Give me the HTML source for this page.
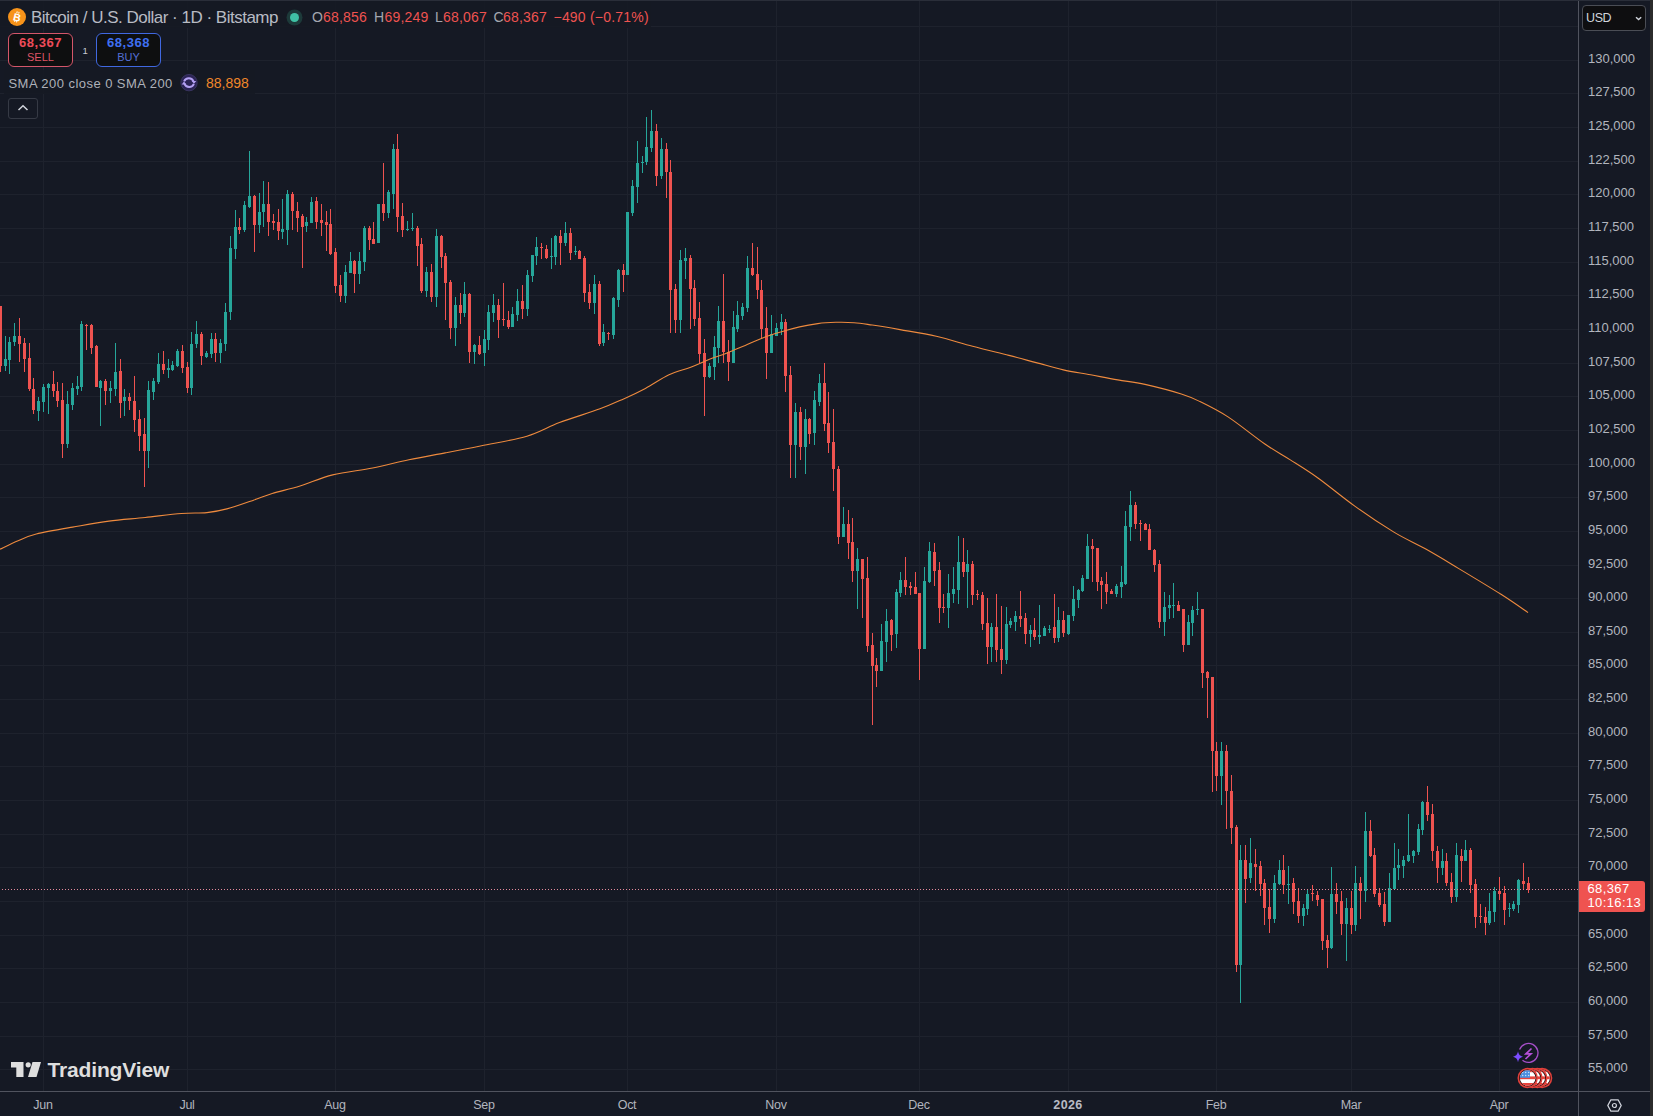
<!DOCTYPE html>
<html><head><meta charset="utf-8">
<style>
html,body{margin:0;padding:0;}
body{width:1653px;height:1116px;background:#151924;position:relative;overflow:hidden;font-family:"Liberation Sans",sans-serif;}
svg{position:absolute;left:0;top:0;}
.pl{position:absolute;left:1588px;color:#b2b5be;font-size:13px;line-height:17px;}
.tl{position:absolute;top:1097px;width:80px;text-align:center;color:#b2b5be;font-size:12.5px;line-height:17px;letter-spacing:-0.3px}
.tl.b{font-weight:700;color:#b8bbc4;letter-spacing:0.4px}
.t{position:absolute;white-space:nowrap;}
.ohlc{top:9px;font-size:14px;line-height:17px;color:#a3a6af;letter-spacing:0.2px}
.ohlc.r{color:#ef5350}
</style></head><body>
<svg width="1653" height="1116" shape-rendering="crispEdges">
<rect x="0" y="26" width="1578" height="1" fill="#1e222d"/>
<rect x="0" y="60" width="1578" height="1" fill="#1e222d"/>
<rect x="0" y="93" width="1578" height="1" fill="#1e222d"/>
<rect x="0" y="127" width="1578" height="1" fill="#1e222d"/>
<rect x="0" y="161" width="1578" height="1" fill="#1e222d"/>
<rect x="0" y="194" width="1578" height="1" fill="#1e222d"/>
<rect x="0" y="228" width="1578" height="1" fill="#1e222d"/>
<rect x="0" y="262" width="1578" height="1" fill="#1e222d"/>
<rect x="0" y="295" width="1578" height="1" fill="#1e222d"/>
<rect x="0" y="329" width="1578" height="1" fill="#1e222d"/>
<rect x="0" y="363" width="1578" height="1" fill="#1e222d"/>
<rect x="0" y="396" width="1578" height="1" fill="#1e222d"/>
<rect x="0" y="430" width="1578" height="1" fill="#1e222d"/>
<rect x="0" y="464" width="1578" height="1" fill="#1e222d"/>
<rect x="0" y="497" width="1578" height="1" fill="#1e222d"/>
<rect x="0" y="531" width="1578" height="1" fill="#1e222d"/>
<rect x="0" y="565" width="1578" height="1" fill="#1e222d"/>
<rect x="0" y="598" width="1578" height="1" fill="#1e222d"/>
<rect x="0" y="632" width="1578" height="1" fill="#1e222d"/>
<rect x="0" y="665" width="1578" height="1" fill="#1e222d"/>
<rect x="0" y="699" width="1578" height="1" fill="#1e222d"/>
<rect x="0" y="733" width="1578" height="1" fill="#1e222d"/>
<rect x="0" y="766" width="1578" height="1" fill="#1e222d"/>
<rect x="0" y="800" width="1578" height="1" fill="#1e222d"/>
<rect x="0" y="834" width="1578" height="1" fill="#1e222d"/>
<rect x="0" y="867" width="1578" height="1" fill="#1e222d"/>
<rect x="0" y="901" width="1578" height="1" fill="#1e222d"/>
<rect x="0" y="935" width="1578" height="1" fill="#1e222d"/>
<rect x="0" y="968" width="1578" height="1" fill="#1e222d"/>
<rect x="0" y="1002" width="1578" height="1" fill="#1e222d"/>
<rect x="0" y="1036" width="1578" height="1" fill="#1e222d"/>
<rect x="0" y="1069" width="1578" height="1" fill="#1e222d"/>
<rect x="43" y="0" width="1" height="1091" fill="#1e222d"/>
<rect x="187" y="0" width="1" height="1091" fill="#1e222d"/>
<rect x="335" y="0" width="1" height="1091" fill="#1e222d"/>
<rect x="484" y="0" width="1" height="1091" fill="#1e222d"/>
<rect x="627" y="0" width="1" height="1091" fill="#1e222d"/>
<rect x="776" y="0" width="1" height="1091" fill="#1e222d"/>
<rect x="919" y="0" width="1" height="1091" fill="#1e222d"/>
<rect x="1068" y="0" width="1" height="1091" fill="#1e222d"/>
<rect x="1216" y="0" width="1" height="1091" fill="#1e222d"/>
<rect x="1351" y="0" width="1" height="1091" fill="#1e222d"/>
<rect x="1499" y="0" width="1" height="1091" fill="#1e222d"/>
<rect x="0" y="306" width="1" height="66" fill="#ef5350"/><rect x="-1" y="306" width="3" height="60" fill="#ef5350"/>
<rect x="5" y="336" width="1" height="35" fill="#26a69a"/><rect x="4" y="359" width="3" height="7" fill="#26a69a"/>
<rect x="9" y="337" width="1" height="37" fill="#26a69a"/><rect x="8" y="342" width="3" height="18" fill="#26a69a"/>
<rect x="14" y="323" width="1" height="23" fill="#26a69a"/><rect x="13" y="336" width="3" height="6" fill="#26a69a"/>
<rect x="19" y="318" width="1" height="44" fill="#ef5350"/><rect x="18" y="336" width="3" height="8" fill="#ef5350"/>
<rect x="24" y="338" width="1" height="34" fill="#ef5350"/><rect x="23" y="343" width="3" height="16" fill="#ef5350"/>
<rect x="29" y="343" width="1" height="48" fill="#ef5350"/><rect x="28" y="358" width="3" height="31" fill="#ef5350"/>
<rect x="33" y="378" width="1" height="36" fill="#ef5350"/><rect x="32" y="389" width="3" height="21" fill="#ef5350"/>
<rect x="38" y="397" width="1" height="24" fill="#26a69a"/><rect x="37" y="401" width="3" height="10" fill="#26a69a"/>
<rect x="43" y="384" width="1" height="28" fill="#26a69a"/><rect x="42" y="387" width="3" height="15" fill="#26a69a"/>
<rect x="48" y="383" width="1" height="31" fill="#26a69a"/><rect x="47" y="384" width="3" height="4" fill="#26a69a"/>
<rect x="53" y="371" width="1" height="26" fill="#ef5350"/><rect x="52" y="384" width="3" height="7" fill="#ef5350"/>
<rect x="57" y="382" width="1" height="25" fill="#ef5350"/><rect x="56" y="391" width="3" height="10" fill="#ef5350"/>
<rect x="62" y="383" width="1" height="75" fill="#ef5350"/><rect x="61" y="400" width="3" height="44" fill="#ef5350"/>
<rect x="67" y="391" width="1" height="57" fill="#26a69a"/><rect x="66" y="404" width="3" height="40" fill="#26a69a"/>
<rect x="72" y="383" width="1" height="27" fill="#26a69a"/><rect x="71" y="388" width="3" height="17" fill="#26a69a"/>
<rect x="77" y="376" width="1" height="19" fill="#26a69a"/><rect x="76" y="386" width="3" height="3" fill="#26a69a"/>
<rect x="81" y="321" width="1" height="70" fill="#26a69a"/><rect x="80" y="324" width="3" height="63" fill="#26a69a"/>
<rect x="86" y="324" width="1" height="26" fill="#ef5350"/><rect x="85" y="325" width="3" height="1" fill="#ef5350"/>
<rect x="91" y="324" width="1" height="30" fill="#ef5350"/><rect x="90" y="325" width="3" height="23" fill="#ef5350"/>
<rect x="96" y="345" width="1" height="42" fill="#ef5350"/><rect x="95" y="346" width="3" height="41" fill="#ef5350"/>
<rect x="100" y="380" width="1" height="46" fill="#26a69a"/><rect x="99" y="381" width="3" height="7" fill="#26a69a"/>
<rect x="105" y="379" width="1" height="26" fill="#ef5350"/><rect x="104" y="381" width="3" height="10" fill="#ef5350"/>
<rect x="110" y="381" width="1" height="22" fill="#26a69a"/><rect x="109" y="388" width="3" height="3" fill="#26a69a"/>
<rect x="115" y="343" width="1" height="53" fill="#26a69a"/><rect x="114" y="372" width="3" height="17" fill="#26a69a"/>
<rect x="120" y="359" width="1" height="59" fill="#ef5350"/><rect x="119" y="371" width="3" height="32" fill="#ef5350"/>
<rect x="124" y="389" width="1" height="27" fill="#26a69a"/><rect x="123" y="397" width="3" height="4" fill="#26a69a"/>
<rect x="129" y="393" width="1" height="17" fill="#ef5350"/><rect x="128" y="397" width="3" height="4" fill="#ef5350"/>
<rect x="134" y="376" width="1" height="56" fill="#ef5350"/><rect x="133" y="401" width="3" height="19" fill="#ef5350"/>
<rect x="139" y="410" width="1" height="41" fill="#ef5350"/><rect x="138" y="419" width="3" height="17" fill="#ef5350"/>
<rect x="144" y="418" width="1" height="69" fill="#ef5350"/><rect x="143" y="434" width="3" height="17" fill="#ef5350"/>
<rect x="148" y="381" width="1" height="87" fill="#26a69a"/><rect x="147" y="390" width="3" height="61" fill="#26a69a"/>
<rect x="153" y="378" width="1" height="22" fill="#26a69a"/><rect x="152" y="381" width="3" height="11" fill="#26a69a"/>
<rect x="158" y="353" width="1" height="31" fill="#26a69a"/><rect x="157" y="364" width="3" height="18" fill="#26a69a"/>
<rect x="163" y="351" width="1" height="23" fill="#ef5350"/><rect x="162" y="364" width="3" height="6" fill="#ef5350"/>
<rect x="168" y="359" width="1" height="19" fill="#26a69a"/><rect x="167" y="368" width="3" height="2" fill="#26a69a"/>
<rect x="172" y="361" width="1" height="10" fill="#26a69a"/><rect x="171" y="365" width="3" height="5" fill="#26a69a"/>
<rect x="177" y="349" width="1" height="18" fill="#26a69a"/><rect x="176" y="351" width="3" height="15" fill="#26a69a"/>
<rect x="182" y="345" width="1" height="28" fill="#ef5350"/><rect x="181" y="351" width="3" height="17" fill="#ef5350"/>
<rect x="187" y="362" width="1" height="31" fill="#ef5350"/><rect x="186" y="367" width="3" height="21" fill="#ef5350"/>
<rect x="191" y="332" width="1" height="63" fill="#26a69a"/><rect x="190" y="344" width="3" height="44" fill="#26a69a"/>
<rect x="196" y="321" width="1" height="27" fill="#26a69a"/><rect x="195" y="334" width="3" height="10" fill="#26a69a"/>
<rect x="201" y="332" width="1" height="33" fill="#ef5350"/><rect x="200" y="334" width="3" height="22" fill="#ef5350"/>
<rect x="206" y="351" width="1" height="7" fill="#26a69a"/><rect x="205" y="353" width="3" height="4" fill="#26a69a"/>
<rect x="211" y="333" width="1" height="25" fill="#26a69a"/><rect x="210" y="339" width="3" height="15" fill="#26a69a"/>
<rect x="215" y="333" width="1" height="29" fill="#ef5350"/><rect x="214" y="339" width="3" height="14" fill="#ef5350"/>
<rect x="220" y="339" width="1" height="24" fill="#26a69a"/><rect x="219" y="343" width="3" height="10" fill="#26a69a"/>
<rect x="225" y="303" width="1" height="48" fill="#26a69a"/><rect x="224" y="312" width="3" height="32" fill="#26a69a"/>
<rect x="230" y="236" width="1" height="84" fill="#26a69a"/><rect x="229" y="248" width="3" height="64" fill="#26a69a"/>
<rect x="235" y="210" width="1" height="49" fill="#26a69a"/><rect x="234" y="227" width="3" height="22" fill="#26a69a"/>
<rect x="239" y="218" width="1" height="16" fill="#ef5350"/><rect x="238" y="227" width="3" height="3" fill="#ef5350"/>
<rect x="244" y="201" width="1" height="31" fill="#26a69a"/><rect x="243" y="205" width="3" height="25" fill="#26a69a"/>
<rect x="249" y="151" width="1" height="57" fill="#26a69a"/><rect x="248" y="196" width="3" height="11" fill="#26a69a"/>
<rect x="254" y="195" width="1" height="57" fill="#ef5350"/><rect x="253" y="196" width="3" height="29" fill="#ef5350"/>
<rect x="259" y="193" width="1" height="40" fill="#26a69a"/><rect x="258" y="212" width="3" height="13" fill="#26a69a"/>
<rect x="263" y="181" width="1" height="46" fill="#26a69a"/><rect x="262" y="204" width="3" height="8" fill="#26a69a"/>
<rect x="268" y="182" width="1" height="54" fill="#ef5350"/><rect x="267" y="204" width="3" height="18" fill="#ef5350"/>
<rect x="273" y="214" width="1" height="16" fill="#ef5350"/><rect x="272" y="221" width="3" height="2" fill="#ef5350"/>
<rect x="278" y="209" width="1" height="31" fill="#ef5350"/><rect x="277" y="222" width="3" height="9" fill="#ef5350"/>
<rect x="282" y="199" width="1" height="40" fill="#26a69a"/><rect x="281" y="229" width="3" height="3" fill="#26a69a"/>
<rect x="287" y="190" width="1" height="55" fill="#26a69a"/><rect x="286" y="194" width="3" height="36" fill="#26a69a"/>
<rect x="292" y="192" width="1" height="38" fill="#ef5350"/><rect x="291" y="194" width="3" height="17" fill="#ef5350"/>
<rect x="297" y="202" width="1" height="30" fill="#ef5350"/><rect x="296" y="211" width="3" height="7" fill="#ef5350"/>
<rect x="302" y="214" width="1" height="54" fill="#ef5350"/><rect x="301" y="216" width="3" height="11" fill="#ef5350"/>
<rect x="306" y="217" width="1" height="15" fill="#26a69a"/><rect x="305" y="222" width="3" height="4" fill="#26a69a"/>
<rect x="311" y="197" width="1" height="26" fill="#26a69a"/><rect x="310" y="202" width="3" height="21" fill="#26a69a"/>
<rect x="316" y="197" width="1" height="32" fill="#ef5350"/><rect x="315" y="201" width="3" height="21" fill="#ef5350"/>
<rect x="321" y="204" width="1" height="32" fill="#ef5350"/><rect x="320" y="220" width="3" height="3" fill="#ef5350"/>
<rect x="326" y="211" width="1" height="40" fill="#ef5350"/><rect x="325" y="222" width="3" height="3" fill="#ef5350"/>
<rect x="330" y="209" width="1" height="46" fill="#ef5350"/><rect x="329" y="224" width="3" height="30" fill="#ef5350"/>
<rect x="335" y="248" width="1" height="45" fill="#ef5350"/><rect x="334" y="252" width="3" height="34" fill="#ef5350"/>
<rect x="340" y="275" width="1" height="27" fill="#ef5350"/><rect x="339" y="285" width="3" height="11" fill="#ef5350"/>
<rect x="345" y="265" width="1" height="38" fill="#26a69a"/><rect x="344" y="272" width="3" height="24" fill="#26a69a"/>
<rect x="350" y="252" width="1" height="21" fill="#26a69a"/><rect x="349" y="261" width="3" height="12" fill="#26a69a"/>
<rect x="354" y="260" width="1" height="33" fill="#ef5350"/><rect x="353" y="261" width="3" height="13" fill="#ef5350"/>
<rect x="359" y="252" width="1" height="32" fill="#26a69a"/><rect x="358" y="261" width="3" height="13" fill="#26a69a"/>
<rect x="364" y="226" width="1" height="45" fill="#26a69a"/><rect x="363" y="228" width="3" height="34" fill="#26a69a"/>
<rect x="369" y="226" width="1" height="24" fill="#ef5350"/><rect x="368" y="228" width="3" height="12" fill="#ef5350"/>
<rect x="373" y="222" width="1" height="22" fill="#ef5350"/><rect x="372" y="239" width="3" height="5" fill="#ef5350"/>
<rect x="378" y="204" width="1" height="39" fill="#26a69a"/><rect x="377" y="204" width="3" height="39" fill="#26a69a"/>
<rect x="383" y="163" width="1" height="58" fill="#ef5350"/><rect x="382" y="204" width="3" height="9" fill="#ef5350"/>
<rect x="388" y="190" width="1" height="28" fill="#26a69a"/><rect x="387" y="192" width="3" height="21" fill="#26a69a"/>
<rect x="393" y="144" width="1" height="65" fill="#26a69a"/><rect x="392" y="149" width="3" height="45" fill="#26a69a"/>
<rect x="397" y="134" width="1" height="98" fill="#ef5350"/><rect x="396" y="149" width="3" height="68" fill="#ef5350"/>
<rect x="402" y="203" width="1" height="34" fill="#ef5350"/><rect x="401" y="216" width="3" height="14" fill="#ef5350"/>
<rect x="407" y="221" width="1" height="10" fill="#26a69a"/><rect x="406" y="229" width="3" height="1" fill="#26a69a"/>
<rect x="412" y="213" width="1" height="18" fill="#26a69a"/><rect x="411" y="228" width="3" height="1" fill="#26a69a"/>
<rect x="417" y="226" width="1" height="40" fill="#ef5350"/><rect x="416" y="228" width="3" height="18" fill="#ef5350"/>
<rect x="421" y="238" width="1" height="55" fill="#ef5350"/><rect x="420" y="244" width="3" height="47" fill="#ef5350"/>
<rect x="426" y="267" width="1" height="30" fill="#26a69a"/><rect x="425" y="272" width="3" height="19" fill="#26a69a"/>
<rect x="431" y="264" width="1" height="38" fill="#ef5350"/><rect x="430" y="272" width="3" height="25" fill="#ef5350"/>
<rect x="436" y="229" width="1" height="78" fill="#26a69a"/><rect x="435" y="236" width="3" height="61" fill="#26a69a"/>
<rect x="441" y="235" width="1" height="33" fill="#ef5350"/><rect x="440" y="236" width="3" height="21" fill="#ef5350"/>
<rect x="445" y="253" width="1" height="67" fill="#ef5350"/><rect x="444" y="256" width="3" height="27" fill="#ef5350"/>
<rect x="450" y="280" width="1" height="59" fill="#ef5350"/><rect x="449" y="282" width="3" height="46" fill="#ef5350"/>
<rect x="455" y="297" width="1" height="49" fill="#26a69a"/><rect x="454" y="305" width="3" height="23" fill="#26a69a"/>
<rect x="460" y="293" width="1" height="31" fill="#ef5350"/><rect x="459" y="305" width="3" height="8" fill="#ef5350"/>
<rect x="464" y="282" width="1" height="35" fill="#26a69a"/><rect x="463" y="294" width="3" height="19" fill="#26a69a"/>
<rect x="469" y="293" width="1" height="70" fill="#ef5350"/><rect x="468" y="294" width="3" height="58" fill="#ef5350"/>
<rect x="474" y="344" width="1" height="20" fill="#26a69a"/><rect x="473" y="345" width="3" height="7" fill="#26a69a"/>
<rect x="479" y="336" width="1" height="19" fill="#ef5350"/><rect x="478" y="345" width="3" height="9" fill="#ef5350"/>
<rect x="484" y="330" width="1" height="36" fill="#26a69a"/><rect x="483" y="339" width="3" height="14" fill="#26a69a"/>
<rect x="488" y="305" width="1" height="45" fill="#26a69a"/><rect x="487" y="312" width="3" height="28" fill="#26a69a"/>
<rect x="493" y="294" width="1" height="28" fill="#26a69a"/><rect x="492" y="305" width="3" height="8" fill="#26a69a"/>
<rect x="498" y="299" width="1" height="39" fill="#ef5350"/><rect x="497" y="305" width="3" height="15" fill="#ef5350"/>
<rect x="503" y="283" width="1" height="43" fill="#ef5350"/><rect x="502" y="319" width="3" height="1" fill="#ef5350"/>
<rect x="508" y="311" width="1" height="18" fill="#ef5350"/><rect x="507" y="320" width="3" height="7" fill="#ef5350"/>
<rect x="512" y="307" width="1" height="20" fill="#26a69a"/><rect x="511" y="314" width="3" height="13" fill="#26a69a"/>
<rect x="517" y="289" width="1" height="32" fill="#26a69a"/><rect x="516" y="301" width="3" height="14" fill="#26a69a"/>
<rect x="522" y="285" width="1" height="34" fill="#ef5350"/><rect x="521" y="301" width="3" height="8" fill="#ef5350"/>
<rect x="527" y="270" width="1" height="46" fill="#26a69a"/><rect x="526" y="275" width="3" height="34" fill="#26a69a"/>
<rect x="532" y="255" width="1" height="27" fill="#26a69a"/><rect x="531" y="255" width="3" height="21" fill="#26a69a"/>
<rect x="536" y="237" width="1" height="28" fill="#26a69a"/><rect x="535" y="247" width="3" height="9" fill="#26a69a"/>
<rect x="541" y="243" width="1" height="16" fill="#ef5350"/><rect x="540" y="247" width="3" height="1" fill="#ef5350"/>
<rect x="546" y="245" width="1" height="14" fill="#ef5350"/><rect x="545" y="249" width="3" height="9" fill="#ef5350"/>
<rect x="551" y="238" width="1" height="31" fill="#26a69a"/><rect x="550" y="256" width="3" height="1" fill="#26a69a"/>
<rect x="555" y="235" width="1" height="30" fill="#26a69a"/><rect x="554" y="236" width="3" height="21" fill="#26a69a"/>
<rect x="560" y="230" width="1" height="35" fill="#ef5350"/><rect x="559" y="236" width="3" height="7" fill="#ef5350"/>
<rect x="565" y="222" width="1" height="24" fill="#26a69a"/><rect x="564" y="233" width="3" height="10" fill="#26a69a"/>
<rect x="570" y="228" width="1" height="32" fill="#ef5350"/><rect x="569" y="233" width="3" height="20" fill="#ef5350"/>
<rect x="575" y="246" width="1" height="9" fill="#26a69a"/><rect x="574" y="251" width="3" height="1" fill="#26a69a"/>
<rect x="579" y="250" width="1" height="9" fill="#ef5350"/><rect x="578" y="251" width="3" height="8" fill="#ef5350"/>
<rect x="584" y="256" width="1" height="46" fill="#ef5350"/><rect x="583" y="258" width="3" height="35" fill="#ef5350"/>
<rect x="589" y="284" width="1" height="25" fill="#ef5350"/><rect x="588" y="292" width="3" height="11" fill="#ef5350"/>
<rect x="594" y="275" width="1" height="39" fill="#26a69a"/><rect x="593" y="284" width="3" height="19" fill="#26a69a"/>
<rect x="599" y="281" width="1" height="65" fill="#ef5350"/><rect x="598" y="284" width="3" height="60" fill="#ef5350"/>
<rect x="603" y="324" width="1" height="22" fill="#26a69a"/><rect x="602" y="332" width="3" height="11" fill="#26a69a"/>
<rect x="608" y="332" width="1" height="8" fill="#ef5350"/><rect x="607" y="333" width="3" height="1" fill="#ef5350"/>
<rect x="613" y="297" width="1" height="42" fill="#26a69a"/><rect x="612" y="298" width="3" height="37" fill="#26a69a"/>
<rect x="618" y="269" width="1" height="38" fill="#26a69a"/><rect x="617" y="270" width="3" height="30" fill="#26a69a"/>
<rect x="623" y="264" width="1" height="28" fill="#ef5350"/><rect x="622" y="270" width="3" height="5" fill="#ef5350"/>
<rect x="627" y="212" width="1" height="63" fill="#26a69a"/><rect x="626" y="212" width="3" height="63" fill="#26a69a"/>
<rect x="632" y="180" width="1" height="36" fill="#26a69a"/><rect x="631" y="186" width="3" height="27" fill="#26a69a"/>
<rect x="637" y="141" width="1" height="62" fill="#26a69a"/><rect x="636" y="163" width="3" height="24" fill="#26a69a"/>
<rect x="642" y="156" width="1" height="17" fill="#26a69a"/><rect x="641" y="162" width="3" height="1" fill="#26a69a"/>
<rect x="646" y="117" width="1" height="48" fill="#26a69a"/><rect x="645" y="147" width="3" height="15" fill="#26a69a"/>
<rect x="651" y="110" width="1" height="42" fill="#26a69a"/><rect x="650" y="131" width="3" height="17" fill="#26a69a"/>
<rect x="656" y="124" width="1" height="62" fill="#ef5350"/><rect x="655" y="131" width="3" height="45" fill="#ef5350"/>
<rect x="661" y="138" width="1" height="41" fill="#26a69a"/><rect x="660" y="149" width="3" height="27" fill="#26a69a"/>
<rect x="666" y="143" width="1" height="55" fill="#ef5350"/><rect x="665" y="149" width="3" height="23" fill="#ef5350"/>
<rect x="670" y="160" width="1" height="173" fill="#ef5350"/><rect x="669" y="172" width="3" height="118" fill="#ef5350"/>
<rect x="675" y="284" width="1" height="49" fill="#ef5350"/><rect x="674" y="289" width="3" height="31" fill="#ef5350"/>
<rect x="680" y="250" width="1" height="83" fill="#26a69a"/><rect x="679" y="260" width="3" height="60" fill="#26a69a"/>
<rect x="685" y="248" width="1" height="31" fill="#26a69a"/><rect x="684" y="258" width="3" height="3" fill="#26a69a"/>
<rect x="690" y="255" width="1" height="74" fill="#ef5350"/><rect x="689" y="258" width="3" height="31" fill="#ef5350"/>
<rect x="694" y="280" width="1" height="46" fill="#ef5350"/><rect x="693" y="288" width="3" height="31" fill="#ef5350"/>
<rect x="699" y="302" width="1" height="61" fill="#ef5350"/><rect x="698" y="318" width="3" height="36" fill="#ef5350"/>
<rect x="704" y="339" width="1" height="77" fill="#ef5350"/><rect x="703" y="353" width="3" height="24" fill="#ef5350"/>
<rect x="709" y="363" width="1" height="15" fill="#26a69a"/><rect x="708" y="366" width="3" height="11" fill="#26a69a"/>
<rect x="714" y="336" width="1" height="44" fill="#26a69a"/><rect x="713" y="347" width="3" height="20" fill="#26a69a"/>
<rect x="718" y="306" width="1" height="57" fill="#26a69a"/><rect x="717" y="321" width="3" height="27" fill="#26a69a"/>
<rect x="723" y="274" width="1" height="89" fill="#ef5350"/><rect x="722" y="321" width="3" height="31" fill="#ef5350"/>
<rect x="728" y="340" width="1" height="41" fill="#ef5350"/><rect x="727" y="352" width="3" height="10" fill="#ef5350"/>
<rect x="733" y="311" width="1" height="52" fill="#26a69a"/><rect x="732" y="327" width="3" height="36" fill="#26a69a"/>
<rect x="737" y="301" width="1" height="31" fill="#26a69a"/><rect x="736" y="315" width="3" height="14" fill="#26a69a"/>
<rect x="742" y="303" width="1" height="17" fill="#26a69a"/><rect x="741" y="307" width="3" height="9" fill="#26a69a"/>
<rect x="747" y="256" width="1" height="56" fill="#26a69a"/><rect x="746" y="268" width="3" height="40" fill="#26a69a"/>
<rect x="752" y="243" width="1" height="33" fill="#ef5350"/><rect x="751" y="268" width="3" height="7" fill="#ef5350"/>
<rect x="757" y="247" width="1" height="52" fill="#ef5350"/><rect x="756" y="274" width="3" height="16" fill="#ef5350"/>
<rect x="761" y="280" width="1" height="58" fill="#ef5350"/><rect x="760" y="290" width="3" height="39" fill="#ef5350"/>
<rect x="766" y="307" width="1" height="72" fill="#ef5350"/><rect x="765" y="328" width="3" height="25" fill="#ef5350"/>
<rect x="771" y="315" width="1" height="38" fill="#26a69a"/><rect x="770" y="334" width="3" height="19" fill="#26a69a"/>
<rect x="776" y="323" width="1" height="13" fill="#26a69a"/><rect x="775" y="328" width="3" height="8" fill="#26a69a"/>
<rect x="781" y="314" width="1" height="21" fill="#26a69a"/><rect x="780" y="322" width="3" height="7" fill="#26a69a"/>
<rect x="785" y="319" width="1" height="73" fill="#ef5350"/><rect x="784" y="322" width="3" height="54" fill="#ef5350"/>
<rect x="790" y="366" width="1" height="112" fill="#ef5350"/><rect x="789" y="375" width="3" height="70" fill="#ef5350"/>
<rect x="795" y="403" width="1" height="75" fill="#26a69a"/><rect x="794" y="412" width="3" height="33" fill="#26a69a"/>
<rect x="800" y="407" width="1" height="53" fill="#ef5350"/><rect x="799" y="412" width="3" height="35" fill="#ef5350"/>
<rect x="805" y="409" width="1" height="65" fill="#26a69a"/><rect x="804" y="419" width="3" height="28" fill="#26a69a"/>
<rect x="809" y="418" width="1" height="26" fill="#ef5350"/><rect x="808" y="419" width="3" height="15" fill="#ef5350"/>
<rect x="814" y="391" width="1" height="54" fill="#26a69a"/><rect x="813" y="400" width="3" height="33" fill="#26a69a"/>
<rect x="819" y="374" width="1" height="32" fill="#26a69a"/><rect x="818" y="383" width="3" height="19" fill="#26a69a"/>
<rect x="824" y="363" width="1" height="68" fill="#ef5350"/><rect x="823" y="383" width="3" height="41" fill="#ef5350"/>
<rect x="828" y="392" width="1" height="61" fill="#ef5350"/><rect x="827" y="423" width="3" height="20" fill="#ef5350"/>
<rect x="833" y="409" width="1" height="82" fill="#ef5350"/><rect x="832" y="442" width="3" height="27" fill="#ef5350"/>
<rect x="838" y="466" width="1" height="78" fill="#ef5350"/><rect x="837" y="469" width="3" height="68" fill="#ef5350"/>
<rect x="843" y="507" width="1" height="30" fill="#26a69a"/><rect x="842" y="524" width="3" height="13" fill="#26a69a"/>
<rect x="848" y="510" width="1" height="49" fill="#ef5350"/><rect x="847" y="524" width="3" height="19" fill="#ef5350"/>
<rect x="852" y="518" width="1" height="64" fill="#ef5350"/><rect x="851" y="542" width="3" height="29" fill="#ef5350"/>
<rect x="857" y="548" width="1" height="61" fill="#26a69a"/><rect x="856" y="559" width="3" height="12" fill="#26a69a"/>
<rect x="862" y="559" width="1" height="59" fill="#ef5350"/><rect x="861" y="559" width="3" height="20" fill="#ef5350"/>
<rect x="867" y="557" width="1" height="95" fill="#ef5350"/><rect x="866" y="578" width="3" height="68" fill="#ef5350"/>
<rect x="872" y="633" width="1" height="92" fill="#ef5350"/><rect x="871" y="645" width="3" height="21" fill="#ef5350"/>
<rect x="876" y="658" width="1" height="29" fill="#ef5350"/><rect x="875" y="665" width="3" height="6" fill="#ef5350"/>
<rect x="881" y="624" width="1" height="47" fill="#26a69a"/><rect x="880" y="641" width="3" height="30" fill="#26a69a"/>
<rect x="886" y="609" width="1" height="53" fill="#26a69a"/><rect x="885" y="621" width="3" height="21" fill="#26a69a"/>
<rect x="891" y="619" width="1" height="32" fill="#ef5350"/><rect x="890" y="620" width="3" height="15" fill="#ef5350"/>
<rect x="896" y="589" width="1" height="59" fill="#26a69a"/><rect x="895" y="592" width="3" height="42" fill="#26a69a"/>
<rect x="900" y="572" width="1" height="25" fill="#26a69a"/><rect x="899" y="580" width="3" height="13" fill="#26a69a"/>
<rect x="905" y="557" width="1" height="38" fill="#ef5350"/><rect x="904" y="580" width="3" height="7" fill="#ef5350"/>
<rect x="910" y="582" width="1" height="13" fill="#ef5350"/><rect x="909" y="586" width="3" height="2" fill="#ef5350"/>
<rect x="915" y="572" width="1" height="22" fill="#ef5350"/><rect x="914" y="587" width="3" height="7" fill="#ef5350"/>
<rect x="919" y="593" width="1" height="87" fill="#ef5350"/><rect x="918" y="593" width="3" height="56" fill="#ef5350"/>
<rect x="924" y="567" width="1" height="82" fill="#26a69a"/><rect x="923" y="581" width="3" height="68" fill="#26a69a"/>
<rect x="929" y="542" width="1" height="41" fill="#26a69a"/><rect x="928" y="551" width="3" height="31" fill="#26a69a"/>
<rect x="934" y="543" width="1" height="43" fill="#ef5350"/><rect x="933" y="552" width="3" height="19" fill="#ef5350"/>
<rect x="939" y="562" width="1" height="61" fill="#ef5350"/><rect x="938" y="570" width="3" height="38" fill="#ef5350"/>
<rect x="943" y="594" width="1" height="19" fill="#ef5350"/><rect x="942" y="607" width="3" height="1" fill="#ef5350"/>
<rect x="948" y="574" width="1" height="54" fill="#26a69a"/><rect x="947" y="593" width="3" height="15" fill="#26a69a"/>
<rect x="953" y="567" width="1" height="36" fill="#26a69a"/><rect x="952" y="589" width="3" height="5" fill="#26a69a"/>
<rect x="958" y="536" width="1" height="68" fill="#26a69a"/><rect x="957" y="562" width="3" height="28" fill="#26a69a"/>
<rect x="963" y="538" width="1" height="39" fill="#ef5350"/><rect x="962" y="562" width="3" height="10" fill="#ef5350"/>
<rect x="967" y="550" width="1" height="58" fill="#26a69a"/><rect x="966" y="564" width="3" height="8" fill="#26a69a"/>
<rect x="972" y="561" width="1" height="44" fill="#ef5350"/><rect x="971" y="564" width="3" height="31" fill="#ef5350"/>
<rect x="977" y="590" width="1" height="10" fill="#ef5350"/><rect x="976" y="594" width="3" height="1" fill="#ef5350"/>
<rect x="982" y="592" width="1" height="38" fill="#ef5350"/><rect x="981" y="595" width="3" height="29" fill="#ef5350"/>
<rect x="987" y="598" width="1" height="66" fill="#ef5350"/><rect x="986" y="623" width="3" height="24" fill="#ef5350"/>
<rect x="991" y="623" width="1" height="39" fill="#26a69a"/><rect x="990" y="627" width="3" height="20" fill="#26a69a"/>
<rect x="996" y="594" width="1" height="68" fill="#ef5350"/><rect x="995" y="627" width="3" height="23" fill="#ef5350"/>
<rect x="1001" y="606" width="1" height="68" fill="#ef5350"/><rect x="1000" y="649" width="3" height="11" fill="#ef5350"/>
<rect x="1006" y="607" width="1" height="57" fill="#26a69a"/><rect x="1005" y="624" width="3" height="36" fill="#26a69a"/>
<rect x="1010" y="618" width="1" height="10" fill="#26a69a"/><rect x="1009" y="621" width="3" height="4" fill="#26a69a"/>
<rect x="1015" y="611" width="1" height="20" fill="#26a69a"/><rect x="1014" y="616" width="3" height="6" fill="#26a69a"/>
<rect x="1020" y="591" width="1" height="36" fill="#ef5350"/><rect x="1019" y="616" width="3" height="3" fill="#ef5350"/>
<rect x="1025" y="613" width="1" height="31" fill="#ef5350"/><rect x="1024" y="618" width="3" height="16" fill="#ef5350"/>
<rect x="1030" y="625" width="1" height="22" fill="#26a69a"/><rect x="1029" y="630" width="3" height="4" fill="#26a69a"/>
<rect x="1034" y="618" width="1" height="22" fill="#ef5350"/><rect x="1033" y="630" width="3" height="7" fill="#ef5350"/>
<rect x="1039" y="605" width="1" height="39" fill="#26a69a"/><rect x="1038" y="635" width="3" height="2" fill="#26a69a"/>
<rect x="1044" y="626" width="1" height="10" fill="#26a69a"/><rect x="1043" y="628" width="3" height="8" fill="#26a69a"/>
<rect x="1049" y="625" width="1" height="8" fill="#26a69a"/><rect x="1048" y="629" width="3" height="1" fill="#26a69a"/>
<rect x="1054" y="594" width="1" height="49" fill="#ef5350"/><rect x="1053" y="627" width="3" height="11" fill="#ef5350"/>
<rect x="1058" y="607" width="1" height="35" fill="#26a69a"/><rect x="1057" y="620" width="3" height="18" fill="#26a69a"/>
<rect x="1063" y="611" width="1" height="26" fill="#ef5350"/><rect x="1062" y="620" width="3" height="13" fill="#ef5350"/>
<rect x="1068" y="615" width="1" height="20" fill="#26a69a"/><rect x="1067" y="615" width="3" height="19" fill="#26a69a"/>
<rect x="1073" y="586" width="1" height="35" fill="#26a69a"/><rect x="1072" y="599" width="3" height="17" fill="#26a69a"/>
<rect x="1078" y="589" width="1" height="19" fill="#26a69a"/><rect x="1077" y="590" width="3" height="10" fill="#26a69a"/>
<rect x="1082" y="575" width="1" height="17" fill="#26a69a"/><rect x="1081" y="578" width="3" height="13" fill="#26a69a"/>
<rect x="1087" y="534" width="1" height="45" fill="#26a69a"/><rect x="1086" y="546" width="3" height="33" fill="#26a69a"/>
<rect x="1092" y="539" width="1" height="43" fill="#ef5350"/><rect x="1091" y="546" width="3" height="3" fill="#ef5350"/>
<rect x="1097" y="548" width="1" height="43" fill="#ef5350"/><rect x="1096" y="548" width="3" height="34" fill="#ef5350"/>
<rect x="1101" y="577" width="1" height="32" fill="#ef5350"/><rect x="1100" y="581" width="3" height="4" fill="#ef5350"/>
<rect x="1106" y="572" width="1" height="32" fill="#ef5350"/><rect x="1105" y="584" width="3" height="8" fill="#ef5350"/>
<rect x="1111" y="589" width="1" height="5" fill="#ef5350"/><rect x="1110" y="591" width="3" height="3" fill="#ef5350"/>
<rect x="1116" y="584" width="1" height="13" fill="#26a69a"/><rect x="1115" y="586" width="3" height="8" fill="#26a69a"/>
<rect x="1121" y="566" width="1" height="32" fill="#26a69a"/><rect x="1120" y="582" width="3" height="5" fill="#26a69a"/>
<rect x="1125" y="511" width="1" height="74" fill="#26a69a"/><rect x="1124" y="526" width="3" height="58" fill="#26a69a"/>
<rect x="1130" y="491" width="1" height="50" fill="#26a69a"/><rect x="1129" y="505" width="3" height="22" fill="#26a69a"/>
<rect x="1135" y="502" width="1" height="27" fill="#ef5350"/><rect x="1134" y="505" width="3" height="19" fill="#ef5350"/>
<rect x="1140" y="520" width="1" height="21" fill="#ef5350"/><rect x="1139" y="523" width="3" height="1" fill="#ef5350"/>
<rect x="1145" y="523" width="1" height="7" fill="#ef5350"/><rect x="1144" y="524" width="3" height="6" fill="#ef5350"/>
<rect x="1149" y="524" width="1" height="26" fill="#ef5350"/><rect x="1148" y="529" width="3" height="21" fill="#ef5350"/>
<rect x="1154" y="549" width="1" height="23" fill="#ef5350"/><rect x="1153" y="550" width="3" height="15" fill="#ef5350"/>
<rect x="1159" y="560" width="1" height="68" fill="#ef5350"/><rect x="1158" y="564" width="3" height="58" fill="#ef5350"/>
<rect x="1164" y="592" width="1" height="44" fill="#26a69a"/><rect x="1163" y="607" width="3" height="15" fill="#26a69a"/>
<rect x="1169" y="595" width="1" height="24" fill="#26a69a"/><rect x="1168" y="605" width="3" height="3" fill="#26a69a"/>
<rect x="1173" y="583" width="1" height="35" fill="#26a69a"/><rect x="1172" y="605" width="3" height="1" fill="#26a69a"/>
<rect x="1178" y="601" width="1" height="10" fill="#ef5350"/><rect x="1177" y="605" width="3" height="6" fill="#ef5350"/>
<rect x="1183" y="609" width="1" height="43" fill="#ef5350"/><rect x="1182" y="609" width="3" height="36" fill="#ef5350"/>
<rect x="1188" y="615" width="1" height="30" fill="#26a69a"/><rect x="1187" y="622" width="3" height="23" fill="#26a69a"/>
<rect x="1192" y="606" width="1" height="30" fill="#26a69a"/><rect x="1191" y="610" width="3" height="13" fill="#26a69a"/>
<rect x="1197" y="592" width="1" height="23" fill="#26a69a"/><rect x="1196" y="609" width="3" height="1" fill="#26a69a"/>
<rect x="1202" y="609" width="1" height="79" fill="#ef5350"/><rect x="1201" y="609" width="3" height="64" fill="#ef5350"/>
<rect x="1207" y="671" width="1" height="47" fill="#ef5350"/><rect x="1206" y="672" width="3" height="6" fill="#ef5350"/>
<rect x="1212" y="677" width="1" height="115" fill="#ef5350"/><rect x="1211" y="677" width="3" height="74" fill="#ef5350"/>
<rect x="1216" y="742" width="1" height="49" fill="#ef5350"/><rect x="1215" y="751" width="3" height="25" fill="#ef5350"/>
<rect x="1221" y="742" width="1" height="63" fill="#26a69a"/><rect x="1220" y="751" width="3" height="25" fill="#26a69a"/>
<rect x="1226" y="745" width="1" height="84" fill="#ef5350"/><rect x="1225" y="751" width="3" height="40" fill="#ef5350"/>
<rect x="1231" y="775" width="1" height="69" fill="#ef5350"/><rect x="1230" y="791" width="3" height="37" fill="#ef5350"/>
<rect x="1236" y="825" width="1" height="147" fill="#ef5350"/><rect x="1235" y="827" width="3" height="138" fill="#ef5350"/>
<rect x="1240" y="845" width="1" height="158" fill="#26a69a"/><rect x="1239" y="860" width="3" height="105" fill="#26a69a"/>
<rect x="1245" y="845" width="1" height="58" fill="#ef5350"/><rect x="1244" y="860" width="3" height="19" fill="#ef5350"/>
<rect x="1250" y="838" width="1" height="45" fill="#26a69a"/><rect x="1249" y="863" width="3" height="15" fill="#26a69a"/>
<rect x="1255" y="849" width="1" height="42" fill="#ef5350"/><rect x="1254" y="864" width="3" height="3" fill="#ef5350"/>
<rect x="1260" y="861" width="1" height="35" fill="#ef5350"/><rect x="1259" y="866" width="3" height="18" fill="#ef5350"/>
<rect x="1264" y="879" width="1" height="46" fill="#ef5350"/><rect x="1263" y="883" width="3" height="25" fill="#ef5350"/>
<rect x="1269" y="889" width="1" height="44" fill="#ef5350"/><rect x="1268" y="907" width="3" height="12" fill="#ef5350"/>
<rect x="1274" y="875" width="1" height="48" fill="#26a69a"/><rect x="1273" y="883" width="3" height="36" fill="#26a69a"/>
<rect x="1279" y="860" width="1" height="25" fill="#26a69a"/><rect x="1278" y="870" width="3" height="14" fill="#26a69a"/>
<rect x="1283" y="855" width="1" height="39" fill="#ef5350"/><rect x="1282" y="870" width="3" height="15" fill="#ef5350"/>
<rect x="1288" y="866" width="1" height="38" fill="#26a69a"/><rect x="1287" y="884" width="3" height="1" fill="#26a69a"/>
<rect x="1293" y="878" width="1" height="36" fill="#ef5350"/><rect x="1292" y="883" width="3" height="19" fill="#ef5350"/>
<rect x="1298" y="888" width="1" height="35" fill="#ef5350"/><rect x="1297" y="901" width="3" height="15" fill="#ef5350"/>
<rect x="1303" y="904" width="1" height="22" fill="#26a69a"/><rect x="1302" y="908" width="3" height="8" fill="#26a69a"/>
<rect x="1307" y="889" width="1" height="26" fill="#26a69a"/><rect x="1306" y="894" width="3" height="15" fill="#26a69a"/>
<rect x="1312" y="885" width="1" height="16" fill="#ef5350"/><rect x="1311" y="893" width="3" height="1" fill="#ef5350"/>
<rect x="1317" y="891" width="1" height="15" fill="#ef5350"/><rect x="1316" y="895" width="3" height="5" fill="#ef5350"/>
<rect x="1322" y="899" width="1" height="51" fill="#ef5350"/><rect x="1321" y="899" width="3" height="42" fill="#ef5350"/>
<rect x="1327" y="935" width="1" height="33" fill="#ef5350"/><rect x="1326" y="940" width="3" height="8" fill="#ef5350"/>
<rect x="1331" y="867" width="1" height="82" fill="#26a69a"/><rect x="1330" y="894" width="3" height="54" fill="#26a69a"/>
<rect x="1336" y="883" width="1" height="31" fill="#ef5350"/><rect x="1335" y="894" width="3" height="8" fill="#ef5350"/>
<rect x="1341" y="891" width="1" height="44" fill="#ef5350"/><rect x="1340" y="901" width="3" height="23" fill="#ef5350"/>
<rect x="1346" y="898" width="1" height="63" fill="#26a69a"/><rect x="1345" y="908" width="3" height="16" fill="#26a69a"/>
<rect x="1351" y="891" width="1" height="43" fill="#ef5350"/><rect x="1350" y="908" width="3" height="17" fill="#ef5350"/>
<rect x="1355" y="866" width="1" height="65" fill="#26a69a"/><rect x="1354" y="883" width="3" height="42" fill="#26a69a"/>
<rect x="1360" y="877" width="1" height="42" fill="#ef5350"/><rect x="1359" y="883" width="3" height="8" fill="#ef5350"/>
<rect x="1365" y="812" width="1" height="90" fill="#26a69a"/><rect x="1364" y="831" width="3" height="60" fill="#26a69a"/>
<rect x="1370" y="820" width="1" height="37" fill="#ef5350"/><rect x="1369" y="831" width="3" height="25" fill="#ef5350"/>
<rect x="1374" y="848" width="1" height="49" fill="#ef5350"/><rect x="1373" y="855" width="3" height="39" fill="#ef5350"/>
<rect x="1379" y="888" width="1" height="19" fill="#ef5350"/><rect x="1378" y="893" width="3" height="12" fill="#ef5350"/>
<rect x="1384" y="892" width="1" height="34" fill="#ef5350"/><rect x="1383" y="904" width="3" height="18" fill="#ef5350"/>
<rect x="1389" y="873" width="1" height="49" fill="#26a69a"/><rect x="1388" y="888" width="3" height="34" fill="#26a69a"/>
<rect x="1394" y="843" width="1" height="46" fill="#26a69a"/><rect x="1393" y="868" width="3" height="21" fill="#26a69a"/>
<rect x="1398" y="849" width="1" height="31" fill="#26a69a"/><rect x="1397" y="865" width="3" height="3" fill="#26a69a"/>
<rect x="1403" y="856" width="1" height="22" fill="#26a69a"/><rect x="1402" y="860" width="3" height="6" fill="#26a69a"/>
<rect x="1408" y="814" width="1" height="48" fill="#26a69a"/><rect x="1407" y="855" width="3" height="6" fill="#26a69a"/>
<rect x="1413" y="850" width="1" height="13" fill="#26a69a"/><rect x="1412" y="851" width="3" height="5" fill="#26a69a"/>
<rect x="1418" y="824" width="1" height="31" fill="#26a69a"/><rect x="1417" y="829" width="3" height="23" fill="#26a69a"/>
<rect x="1422" y="801" width="1" height="34" fill="#26a69a"/><rect x="1421" y="802" width="3" height="28" fill="#26a69a"/>
<rect x="1427" y="786" width="1" height="35" fill="#ef5350"/><rect x="1426" y="802" width="3" height="13" fill="#ef5350"/>
<rect x="1432" y="804" width="1" height="57" fill="#ef5350"/><rect x="1431" y="814" width="3" height="37" fill="#ef5350"/>
<rect x="1437" y="846" width="1" height="37" fill="#ef5350"/><rect x="1436" y="851" width="3" height="17" fill="#ef5350"/>
<rect x="1442" y="849" width="1" height="26" fill="#26a69a"/><rect x="1441" y="861" width="3" height="7" fill="#26a69a"/>
<rect x="1446" y="853" width="1" height="33" fill="#ef5350"/><rect x="1445" y="861" width="3" height="22" fill="#ef5350"/>
<rect x="1451" y="873" width="1" height="30" fill="#ef5350"/><rect x="1450" y="882" width="3" height="15" fill="#ef5350"/>
<rect x="1456" y="843" width="1" height="59" fill="#26a69a"/><rect x="1455" y="855" width="3" height="42" fill="#26a69a"/>
<rect x="1461" y="849" width="1" height="33" fill="#ef5350"/><rect x="1460" y="856" width="3" height="5" fill="#ef5350"/>
<rect x="1465" y="840" width="1" height="21" fill="#26a69a"/><rect x="1464" y="850" width="3" height="11" fill="#26a69a"/>
<rect x="1470" y="848" width="1" height="45" fill="#ef5350"/><rect x="1469" y="850" width="3" height="35" fill="#ef5350"/>
<rect x="1475" y="879" width="1" height="49" fill="#ef5350"/><rect x="1474" y="884" width="3" height="33" fill="#ef5350"/>
<rect x="1480" y="904" width="1" height="19" fill="#ef5350"/><rect x="1479" y="916" width="3" height="1" fill="#ef5350"/>
<rect x="1485" y="907" width="1" height="28" fill="#ef5350"/><rect x="1484" y="917" width="3" height="6" fill="#ef5350"/>
<rect x="1489" y="893" width="1" height="32" fill="#26a69a"/><rect x="1488" y="911" width="3" height="12" fill="#26a69a"/>
<rect x="1494" y="887" width="1" height="35" fill="#26a69a"/><rect x="1493" y="891" width="3" height="21" fill="#26a69a"/>
<rect x="1499" y="877" width="1" height="23" fill="#ef5350"/><rect x="1498" y="891" width="3" height="3" fill="#ef5350"/>
<rect x="1504" y="886" width="1" height="39" fill="#ef5350"/><rect x="1503" y="893" width="3" height="17" fill="#ef5350"/>
<rect x="1509" y="903" width="1" height="14" fill="#26a69a"/><rect x="1508" y="908" width="3" height="1" fill="#26a69a"/>
<rect x="1513" y="901" width="1" height="10" fill="#26a69a"/><rect x="1512" y="904" width="3" height="5" fill="#26a69a"/>
<rect x="1518" y="879" width="1" height="34" fill="#26a69a"/><rect x="1517" y="880" width="3" height="25" fill="#26a69a"/>
<rect x="1523" y="863" width="1" height="27" fill="#ef5350"/><rect x="1522" y="881" width="3" height="3" fill="#ef5350"/>
<rect x="1528" y="877" width="1" height="16" fill="#ef5350"/><rect x="1527" y="883" width="3" height="7" fill="#ef5350"/>
<path d="M0.0,549.2 C3.0,547.8 12.1,543.2 18.1,540.7 C24.2,538.2 27.2,536.3 36.3,534.0 C45.4,531.7 60.5,529.2 72.6,527.1 C84.7,525.0 96.8,522.7 108.9,521.1 C121.0,519.5 133.1,518.8 145.2,517.5 C157.3,516.2 171.2,514.3 181.5,513.5 C191.8,512.7 199.3,513.4 206.9,512.6 C214.5,511.8 219.0,511.0 226.9,508.9 C234.8,506.8 246.6,502.5 254.1,499.9 C261.6,497.3 264.6,495.8 272.2,493.5 C279.8,491.2 289.9,489.1 300.0,486.0 C310.1,482.9 320.6,477.9 332.7,474.9 C344.8,471.9 359.9,470.5 372.6,468.0 C385.3,465.5 396.8,462.3 408.9,459.8 C421.0,457.3 433.1,455.2 445.2,452.9 C457.3,450.6 467.9,448.6 481.5,445.8 C495.1,443.0 513.9,440.1 526.9,436.2 C539.9,432.3 547.3,427.2 559.5,422.6 C571.7,418.0 589.3,412.8 600.0,408.8 C610.7,404.9 616.0,402.3 623.6,398.9 C631.2,395.5 637.8,392.4 645.4,388.4 C653.0,384.4 661.5,378.3 669.0,374.8 C676.5,371.3 684.1,369.8 690.7,367.2 C697.4,364.6 702.9,361.9 708.9,359.5 C714.9,357.1 721.0,355.4 727.0,353.0 C733.0,350.6 739.2,347.9 745.2,345.4 C751.2,342.8 757.2,340.0 763.3,337.7 C769.3,335.4 775.5,333.6 781.5,331.8 C787.5,330.0 793.6,328.3 799.6,326.9 C805.6,325.5 811.8,324.4 817.8,323.6 C823.8,322.8 829.8,322.5 835.9,322.3 C842.0,322.1 848.0,322.2 854.1,322.7 C860.2,323.1 864.6,323.9 872.2,325.0 C879.9,326.1 889.3,327.7 900.0,329.6 C910.7,331.5 924.2,333.5 936.3,336.3 C948.4,339.1 960.5,343.1 972.6,346.3 C984.7,349.5 998.3,352.7 1008.9,355.4 C1019.5,358.1 1027.0,360.2 1036.1,362.6 C1045.2,365.0 1054.2,367.9 1063.3,369.9 C1072.4,371.9 1081.5,373.1 1090.6,374.8 C1099.7,376.5 1108.7,378.3 1117.8,379.9 C1126.9,381.5 1134.4,382.0 1145.0,384.4 C1155.6,386.8 1172.1,391.1 1181.3,394.0 C1190.5,396.9 1192.2,397.8 1200.0,401.6 C1207.8,405.4 1217.2,409.9 1228.0,416.9 C1238.8,423.9 1254.1,436.6 1264.5,443.8 C1274.9,451.0 1281.3,454.2 1290.3,459.9 C1299.3,465.6 1307.5,470.5 1318.3,478.2 C1329.0,485.9 1342.3,497.2 1354.8,506.1 C1367.3,515.1 1381.7,524.7 1393.5,531.9 C1405.3,539.1 1415.0,543.1 1425.8,549.1 C1436.5,555.1 1445.5,560.6 1458.0,568.1 C1470.5,575.6 1489.3,586.9 1501.0,594.3 C1512.7,601.7 1523.5,609.5 1528.0,612.6" fill="none" stroke="#ee8a3e" stroke-width="1.1" shape-rendering="geometricPrecision"/>
<line x1="0" y1="889.5" x2="1578" y2="889.5" stroke="#e3899a" stroke-width="1" stroke-dasharray="1 2" stroke-dashoffset="1"/>
<rect x="1578" y="0" width="1" height="1116" fill="#50535e"/>
<rect x="0" y="1091" width="1650" height="1" fill="#50535e"/>
<rect x="0" y="0" width="1653" height="1" fill="#2a2e39"/>
<rect x="1650" y="0" width="3" height="1116" fill="#2b2b2b"/>
</svg>
<div class="pl" style="top:49.5px">130,000</div>
<div class="pl" style="top:82.5px">127,500</div>
<div class="pl" style="top:116.5px">125,000</div>
<div class="pl" style="top:150.5px">122,500</div>
<div class="pl" style="top:183.5px">120,000</div>
<div class="pl" style="top:217.5px">117,500</div>
<div class="pl" style="top:251.5px">115,000</div>
<div class="pl" style="top:284.5px">112,500</div>
<div class="pl" style="top:318.5px">110,000</div>
<div class="pl" style="top:352.5px">107,500</div>
<div class="pl" style="top:385.5px">105,000</div>
<div class="pl" style="top:419.5px">102,500</div>
<div class="pl" style="top:453.5px">100,000</div>
<div class="pl" style="top:486.5px">97,500</div>
<div class="pl" style="top:520.5px">95,000</div>
<div class="pl" style="top:554.5px">92,500</div>
<div class="pl" style="top:587.5px">90,000</div>
<div class="pl" style="top:621.5px">87,500</div>
<div class="pl" style="top:654.5px">85,000</div>
<div class="pl" style="top:688.5px">82,500</div>
<div class="pl" style="top:722.5px">80,000</div>
<div class="pl" style="top:755.5px">77,500</div>
<div class="pl" style="top:789.5px">75,000</div>
<div class="pl" style="top:823.5px">72,500</div>
<div class="pl" style="top:856.5px">70,000</div>
<div class="pl" style="top:924.5px">65,000</div>
<div class="pl" style="top:957.5px">62,500</div>
<div class="pl" style="top:991.5px">60,000</div>
<div class="pl" style="top:1025.5px">57,500</div>
<div class="pl" style="top:1058.5px">55,000</div>
<div class="tl" style="left:3px">Jun</div>
<div class="tl" style="left:147px">Jul</div>
<div class="tl" style="left:295px">Aug</div>
<div class="tl" style="left:444px">Sep</div>
<div class="tl" style="left:587px">Oct</div>
<div class="tl" style="left:736px">Nov</div>
<div class="tl" style="left:879px">Dec</div>
<div class="tl b" style="left:1028px">2026</div>
<div class="tl" style="left:1176px">Feb</div>
<div class="tl" style="left:1311px">Mar</div>
<div class="tl" style="left:1459px">Apr</div>
<!-- legend -->
<div style="position:absolute;left:0;top:1px;width:651px;height:27px;background:#151924;opacity:0.9"></div>
<div style="position:absolute;left:4px;top:70px;width:251px;height:24px;background:#151924;opacity:0.9"></div>
<svg style="left:8px;top:8px" width="18" height="18" viewBox="0 0 18 18" shape-rendering="geometricPrecision"><circle cx="9" cy="9" r="9" fill="#f7931a"/><g transform="rotate(14 9 9)" fill="#fff"><text x="9.2" y="12.9" text-anchor="middle" font-family="Liberation Sans" font-weight="700" font-size="10.5">B</text><rect x="7.4" y="3.6" width="1" height="1.8"/><rect x="9.3" y="3.6" width="1" height="1.8"/><rect x="7.4" y="12.6" width="1" height="1.8"/><rect x="9.3" y="12.6" width="1" height="1.8"/></g></svg>
<div class="t" style="left:31px;top:8px;font-size:17px;line-height:20px;color:#b8bbc3;letter-spacing:-0.5px">Bitcoin / U.S. Dollar · 1D · Bitstamp</div>
<svg style="left:286px;top:9px" width="17" height="17" shape-rendering="geometricPrecision"><circle cx="8.5" cy="8.5" r="8" fill="#1d3a3a"/><circle cx="8.5" cy="8.5" r="4.5" fill="#3fc1a5"/></svg>
<div class="t ohlc" style="left:312px">O</div><div class="t ohlc r" style="left:323px">68,856</div><div class="t ohlc" style="left:374px">H</div><div class="t ohlc r" style="left:384.5px">69,249</div><div class="t ohlc" style="left:435px">L</div><div class="t ohlc r" style="left:443px">68,067</div><div class="t ohlc" style="left:493.5px">C</div><div class="t ohlc r" style="left:503px">68,367</div><div class="t ohlc r" style="left:553.5px">−490</div><div class="t ohlc r" style="left:590px">(−0.71%)</div>
<div style="position:absolute;left:8px;top:33px;width:63px;height:32px;border:1px solid #d4566a;border-radius:6px;background:#0e0f10;"></div>
<div class="t" style="left:8px;top:35px;width:65px;text-align:center;font-size:13px;line-height:15px;font-weight:700;color:#ee4c5a;letter-spacing:0.5px">68,367</div>
<div class="t" style="left:8px;top:51px;width:65px;text-align:center;font-size:11px;line-height:13px;color:#dc5466">SELL</div>
<div class="t" style="left:82.5px;top:45px;font-size:9.5px;line-height:11px;color:#c8cbd3">1</div>
<div style="position:absolute;left:96px;top:33px;width:63px;height:32px;border:1px solid #4068e0;border-radius:6px;background:#0e0f10;"></div>
<div class="t" style="left:96px;top:35px;width:65px;text-align:center;font-size:13px;line-height:15px;font-weight:700;color:#3f6ff2;letter-spacing:0.5px">68,368</div>
<div class="t" style="left:96px;top:51px;width:65px;text-align:center;font-size:11px;line-height:13px;color:#5470d4">BUY</div>
<div class="t" style="left:8.5px;top:75px;font-size:13px;line-height:17px;color:#aeb1b9;letter-spacing:0.45px">SMA 200 close 0 SMA 200</div>
<svg style="left:180px;top:74px" width="18" height="18" shape-rendering="geometricPrecision"><circle cx="9" cy="8.65" r="8.2" fill="#2c2456" stroke="#393460" stroke-width="1"/><path d="M4.1,7.45 A5.1,5.1 0 0 1 13.6,7.6 M13.9,9.85 A5.1,5.1 0 0 1 4.4,9.7" fill="none" stroke="#b3a0f2" stroke-width="1.9"/><path d="M11.7,6.9 L16.3,6.9 L14.0,9.8Z M6.3,10.4 L1.7,10.4 L4.0,7.5Z" fill="#b3a0f2"/></svg>
<div class="t" style="left:206px;top:75px;font-size:14px;line-height:17px;color:#f0862a">88,898</div>
<div style="position:absolute;left:8px;top:98px;width:28px;height:19px;border:1px solid #363a45;border-radius:3px;"></div>
<svg style="left:16px;top:103px" width="14" height="10" shape-rendering="geometricPrecision"><path d="M2.5,7 L7,2.8 L11.5,7" fill="none" stroke="#d1d4dc" stroke-width="1.5"/></svg>
<!-- USD -->
<div style="position:absolute;left:1582px;top:5px;width:62px;height:24px;border:1px solid #4a4d55;border-radius:4px;background:#0e0e10;"></div>
<div class="t" style="left:1586px;top:11px;font-size:12.5px;line-height:15px;color:#d1d4dc;letter-spacing:-0.4px">USD</div>
<svg style="left:1634px;top:15px" width="9" height="7" shape-rendering="geometricPrecision"><path d="M2,2.2 L4.6,4.6 L7.2,2.2" fill="none" stroke="#d1d4dc" stroke-width="1.4"/></svg>
<!-- price label -->
<div style="position:absolute;left:1579px;top:881px;width:66px;height:31px;background:#ef5350;border-radius:0 3px 3px 0;"></div>
<div class="t" style="left:1587.5px;top:882px;font-size:13px;line-height:14px;color:#fff;letter-spacing:0.38px">68,367<br>10:16:13</div>
<!-- logo -->
<svg style="left:10px;top:1061px" width="34" height="17" shape-rendering="geometricPrecision"><path d="M1,1 H13.5 V16 H6.3 V6.5 H1 Z" fill="#dedede"/><circle cx="18.2" cy="3.8" r="2.6" fill="#dedede"/><path d="M22.5,1 H31 L26.5,16 H18 Z" fill="#dedede"/></svg>
<div class="t" style="left:47.5px;top:1057.5px;font-size:21px;line-height:24px;font-weight:700;color:#dedede;letter-spacing:-0.15px">TradingView</div>
<!-- settings -->
<svg style="left:1605px;top:1097px" width="18" height="17" shape-rendering="geometricPrecision"><path d="M2.8,8.5 L5.9,2.8 H13.1 L16.2,8.5 L13.1,14.2 H5.9 Z" fill="none" stroke="#d1d4dc" stroke-width="1.3" stroke-linejoin="round"/><circle cx="9.4" cy="8.5" r="2" fill="none" stroke="#d1d4dc" stroke-width="1.2"/></svg>
<!-- flags -->
<svg style="left:1505px;top:1038px" width="52" height="54" shape-rendering="geometricPrecision">
<defs>
<g id="flag">
<rect x="-9" y="-9" width="18" height="18" fill="#fff"/>
<rect x="-9" y="-9" width="18" height="3.2" fill="#e8433c"/>
<rect x="-9" y="-1.6" width="18" height="2.8" fill="#e8433c"/>
<rect x="-9" y="5" width="18" height="4" fill="#e8433c"/>
<rect x="-9" y="-9" width="11.3" height="8.8" fill="#4a8fe0"/>
<g fill="#cfe3fa"><circle cx="-5" cy="-5.5" r="0.7"/><circle cx="-2" cy="-5.5" r="0.7"/><circle cx="1" cy="-5.5" r="0.7"/><circle cx="-5" cy="-2.5" r="0.7"/><circle cx="-2" cy="-2.5" r="0.7"/><circle cx="1" cy="-2.5" r="0.7"/></g>
</g>
<clipPath id="c0"><circle cx="0" cy="0" r="7.8"/></clipPath>
</defs>
<g transform="translate(37.1,40)"><circle r="10.2" fill="#e0403b"/><circle r="8.6" fill="#1a0b0b"/><g clip-path="url(#c0)"><use href="#flag"/></g></g>
<g transform="translate(32.3,40)"><circle r="10.2" fill="#e0403b"/><circle r="8.6" fill="#1a0b0b"/><g clip-path="url(#c0)"><use href="#flag"/></g></g>
<g transform="translate(27.5,40)"><circle r="10.2" fill="#e0403b"/><circle r="8.6" fill="#1a0b0b"/><g clip-path="url(#c0)"><use href="#flag"/></g></g>
<g transform="translate(22.7,40)"><circle r="10.2" fill="#e0403b"/><circle r="8.6" fill="#1a0b0b"/><g clip-path="url(#c0)"><use href="#flag"/></g></g>
<path d="M14.6,11.5 A9.5,9.5 0 1 1 17.5,22.3" fill="none" stroke="#a64fc8" stroke-width="1.3"/>
<path d="M26.5,10.5 L21,15.8 L26,15.8 L20.5,21" fill="none" stroke="#b650d8" stroke-width="1.7" stroke-linejoin="miter"/>
<path d="M13,13.3 Q13.6,18 18,18.8 Q13.6,19.6 13,24.3 Q12.4,19.6 8,18.8 Q12.4,18 13,13.3Z" fill="#7c4dff"/>
</svg>
</body></html>
